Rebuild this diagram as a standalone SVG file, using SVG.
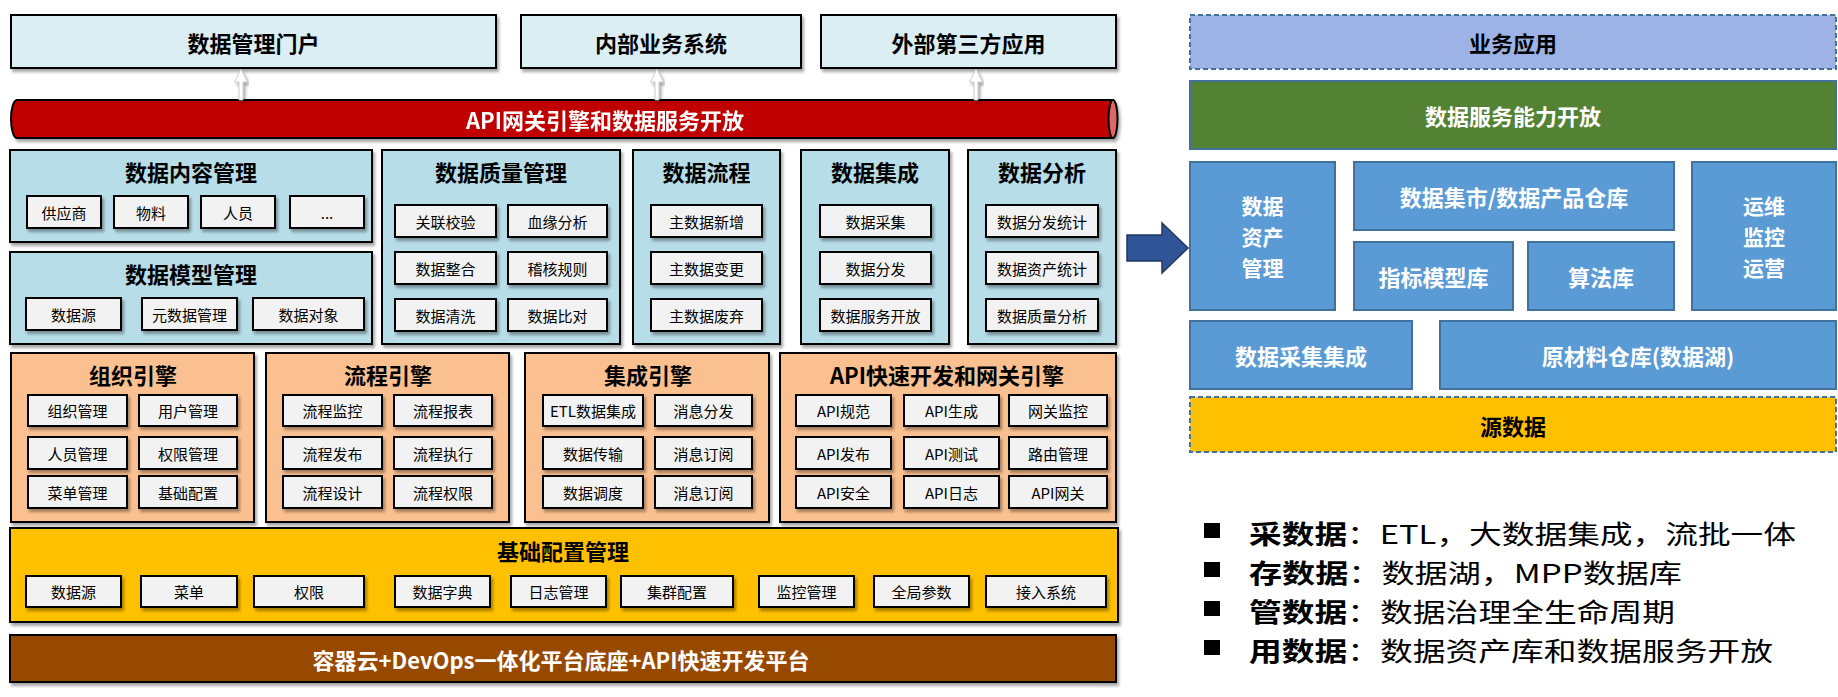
<svg xmlns="http://www.w3.org/2000/svg" width="1838" height="697" viewBox="0 0 1838 697">
<defs>
<filter id="sh" x="-10%" y="-20%" width="120%" height="150%">
<feDropShadow dx="2" dy="3" stdDeviation="1.8" flood-color="#000" flood-opacity="0.35"/>
</filter>
<style>
text{font-family:"Noto Sans CJK SC","Microsoft YaHei",sans-serif;text-anchor:middle;dominant-baseline:central}
.h{font-size:22px;font-weight:700;fill:#000}
.hw{font-size:22px;font-weight:700;fill:#fff}
.vs{font-size:21px;font-weight:700;fill:#fff}
.i{font-size:15px;fill:#000}
.top{fill:#DAEEF3;stroke:#000;stroke-width:2;filter:url(#sh)}
.sec{fill:#B7DDE8;stroke:#000;stroke-width:2;filter:url(#sh)}
.eng{fill:#FAC090;stroke:#000;stroke-width:2;filter:url(#sh)}
.item{fill:#F2F2F2;stroke:#000;stroke-width:2;filter:url(#sh)}
.rb{fill:#5B9BD5;stroke:#41719C;stroke-width:2}
.bl{font-size:26px;fill:#000;text-anchor:start}
</style>
</defs>

<!-- top layer -->
<g id="portal"><rect class="top" x="11" y="15" width="485" height="53"/><text class="h" x="253.5" y="41.5">数据管理门户</text></g>
<g id="internal"><rect class="top" x="521" y="15" width="280" height="53"/><text class="h" x="661" y="41.5">内部业务系统</text></g>
<g id="external"><rect class="top" x="821" y="15" width="295" height="53"/><text class="h" x="968.5" y="41.5">外部第三方应用</text></g>

<!-- API gateway bar -->
<g id="gateway" filter="url(#sh)">
<path d="M1113,100 L17,100 A6,19 0 0 0 17,138 L1113,138 Z" fill="#C00000" stroke="#000" stroke-width="2"/>
<ellipse cx="1113" cy="119" rx="4.5" ry="19" fill="#E06666" stroke="#000" stroke-width="2"/>
<text class="hw" x="605" y="119">API网关引擎和数据服务开放</text>
</g>

<!-- data content management -->
<g id="content">
<rect class="sec" x="10" y="150" width="362" height="92"/>
<text class="h" x="191" y="171">数据内容管理</text>
<rect class="item" x="27" y="196" width="74" height="32"/><text class="i" x="64" y="212">供应商</text>
<rect class="item" x="114" y="196" width="74" height="32"/><text class="i" x="151" y="212">物料</text>
<rect class="item" x="201" y="196" width="74" height="32"/><text class="i" x="238" y="212">人员</text>
<rect class="item" x="290" y="196" width="74" height="32"/><text class="i" x="327" y="212">...</text>
</g>

<g id="model">
<rect class="sec" x="10" y="252" width="362" height="92"/>
<text class="h" x="191" y="273">数据模型管理</text>
<rect class="item" x="26" y="298" width="95" height="32"/><text class="i" x="73.5" y="314">数据源</text>
<rect class="item" x="142" y="298" width="95" height="32"/><text class="i" x="189.5" y="314">元数据管理</text>
<rect class="item" x="253" y="298" width="111" height="32"/><text class="i" x="308.5" y="314">数据对象</text>
</g>

<g id="quality">
<rect class="sec" x="382" y="150" width="238" height="194"/>
<text class="h" x="501" y="171">数据质量管理</text>
<rect class="item" x="395" y="205" width="101" height="32"/><text class="i" x="445.5" y="221">关联校验</text>
<rect class="item" x="508" y="205" width="99" height="32"/><text class="i" x="557.5" y="221">血缘分析</text>
<rect class="item" x="395" y="252" width="101" height="32"/><text class="i" x="445.5" y="268">数据整合</text>
<rect class="item" x="508" y="252" width="99" height="32"/><text class="i" x="557.5" y="268">稽核规则</text>
<rect class="item" x="395" y="299" width="101" height="32"/><text class="i" x="445.5" y="315">数据清洗</text>
<rect class="item" x="508" y="299" width="99" height="32"/><text class="i" x="557.5" y="315">数据比对</text>
</g>

<g id="flow">
<rect class="sec" x="633" y="150" width="147" height="194"/>
<text class="h" x="706.5" y="171">数据流程</text>
<rect class="item" x="651" y="205" width="111" height="32"/><text class="i" x="706.5" y="221">主数据新增</text>
<rect class="item" x="651" y="252" width="111" height="32"/><text class="i" x="706.5" y="268">主数据变更</text>
<rect class="item" x="651" y="299" width="111" height="32"/><text class="i" x="706.5" y="315">主数据废弃</text>
</g>

<g id="integration">
<rect class="sec" x="801" y="150" width="148" height="194"/>
<text class="h" x="875" y="171">数据集成</text>
<rect class="item" x="820" y="205" width="111" height="32"/><text class="i" x="875.5" y="221">数据采集</text>
<rect class="item" x="820" y="252" width="111" height="32"/><text class="i" x="875.5" y="268">数据分发</text>
<rect class="item" x="820" y="299" width="111" height="32"/><text class="i" x="875.5" y="315">数据服务开放</text>
</g>

<g id="analysis">
<rect class="sec" x="968" y="150" width="148" height="194"/>
<text class="h" x="1042" y="171">数据分析</text>
<rect class="item" x="986" y="205" width="112" height="32"/><text class="i" x="1042" y="221">数据分发统计</text>
<rect class="item" x="986" y="252" width="112" height="32"/><text class="i" x="1042" y="268">数据资产统计</text>
<rect class="item" x="986" y="299" width="112" height="32"/><text class="i" x="1042" y="315">数据质量分析</text>
</g>

<!-- engines -->
<g id="org-engine">
<rect class="eng" x="11" y="353" width="243" height="169"/>
<text class="h" x="133" y="374">组织引擎</text>
<rect class="item" x="28" y="395" width="99" height="31"/><text class="i" x="77.5" y="410.5">组织管理</text>
<rect class="item" x="139" y="395" width="98" height="31"/><text class="i" x="188" y="410.5">用户管理</text>
<rect class="item" x="28" y="437" width="99" height="32"/><text class="i" x="77.5" y="453">人员管理</text>
<rect class="item" x="139" y="437" width="98" height="32"/><text class="i" x="188" y="453">权限管理</text>
<rect class="item" x="28" y="476" width="99" height="32"/><text class="i" x="77.5" y="492">菜单管理</text>
<rect class="item" x="139" y="476" width="98" height="32"/><text class="i" x="188" y="492">基础配置</text>
</g>

<g id="flow-engine">
<rect class="eng" x="266" y="353" width="243" height="169"/>
<text class="h" x="388" y="374">流程引擎</text>
<rect class="item" x="283" y="395" width="99" height="31"/><text class="i" x="332.5" y="410.5">流程监控</text>
<rect class="item" x="394" y="395" width="98" height="31"/><text class="i" x="443" y="410.5">流程报表</text>
<rect class="item" x="283" y="437" width="99" height="32"/><text class="i" x="332.5" y="453">流程发布</text>
<rect class="item" x="394" y="437" width="98" height="32"/><text class="i" x="443" y="453">流程执行</text>
<rect class="item" x="283" y="476" width="99" height="32"/><text class="i" x="332.5" y="492">流程设计</text>
<rect class="item" x="394" y="476" width="98" height="32"/><text class="i" x="443" y="492">流程权限</text>
</g>

<g id="int-engine">
<rect class="eng" x="525" y="353" width="244" height="169"/>
<text class="h" x="648" y="374">集成引擎</text>
<rect class="item" x="543" y="395" width="100" height="31"/><text class="i" x="593" y="410.5">ETL数据集成</text>
<rect class="item" x="655" y="395" width="97" height="31"/><text class="i" x="703.5" y="410.5">消息分发</text>
<rect class="item" x="543" y="437" width="100" height="32"/><text class="i" x="593" y="453">数据传输</text>
<rect class="item" x="655" y="437" width="97" height="32"/><text class="i" x="703.5" y="453">消息订阅</text>
<rect class="item" x="543" y="476" width="100" height="32"/><text class="i" x="593" y="492">数据调度</text>
<rect class="item" x="655" y="476" width="97" height="32"/><text class="i" x="703.5" y="492">消息订阅</text>
</g>

<g id="api-engine">
<rect class="eng" x="780" y="353" width="336" height="169"/>
<text class="h" x="947" y="374">API快速开发和网关引擎</text>
<rect class="item" x="796" y="395" width="95" height="31"/><text class="i" x="843.5" y="410.5">API规范</text>
<rect class="item" x="904" y="395" width="95" height="31"/><text class="i" x="951.5" y="410.5">API生成</text>
<rect class="item" x="1009" y="395" width="98" height="31"/><text class="i" x="1058" y="410.5">网关监控</text>
<rect class="item" x="796" y="437" width="95" height="32"/><text class="i" x="843.5" y="453">API发布</text>
<rect class="item" x="904" y="437" width="95" height="32"/><text class="i" x="951.5" y="453">API测试</text>
<rect class="item" x="1009" y="437" width="98" height="32"/><text class="i" x="1058" y="453">路由管理</text>
<rect class="item" x="796" y="476" width="95" height="32"/><text class="i" x="843.5" y="492">API安全</text>
<rect class="item" x="904" y="476" width="95" height="32"/><text class="i" x="951.5" y="492">API日志</text>
<rect class="item" x="1009" y="476" width="98" height="32"/><text class="i" x="1058" y="492">API网关</text>
</g>

<g id="base-config">
<rect x="10" y="528" width="1108" height="94" fill="#FFC000" stroke="#000" stroke-width="2" filter="url(#sh)"/>
<text class="h" x="563" y="550">基础配置管理</text>
<rect class="item" x="26" y="576" width="95" height="31"/><text class="i" x="73.5" y="591.5">数据源</text>
<rect class="item" x="141" y="576" width="96" height="31"/><text class="i" x="189" y="591.5">菜单</text>
<rect class="item" x="254" y="576" width="110" height="31"/><text class="i" x="309" y="591.5">权限</text>
<rect class="item" x="395" y="576" width="95" height="31"/><text class="i" x="442.5" y="591.5">数据字典</text>
<rect class="item" x="511" y="576" width="95" height="31"/><text class="i" x="558.5" y="591.5">日志管理</text>
<rect class="item" x="621" y="576" width="112" height="31"/><text class="i" x="677" y="591.5">集群配置</text>
<rect class="item" x="759" y="576" width="95" height="31"/><text class="i" x="806.5" y="591.5">监控管理</text>
<rect class="item" x="874" y="576" width="95" height="31"/><text class="i" x="921.5" y="591.5">全局参数</text>
<rect class="item" x="986" y="576" width="120" height="31"/><text class="i" x="1046" y="591.5">接入系统</text>
</g>

<g id="platform">
<rect x="10" y="635" width="1106" height="47" fill="#984806" stroke="#000" stroke-width="2" filter="url(#sh)"/>
<text class="hw" x="561" y="658.5">容器云+DevOps一体化平台底座+API快速开发平台</text>
</g>

<!-- right side -->
<g id="biz-app">
<rect x="1190" y="15" width="646" height="54" fill="#9DB3E6" stroke="#41719C" stroke-width="2" stroke-dasharray="5,3"/>
<text class="h" x="1513" y="42">业务应用</text>
</g>
<g id="service-open">
<rect x="1190" y="81" width="646" height="68" fill="#548235" stroke="#41719C" stroke-width="2"/>
<text class="hw" x="1513" y="115">数据服务能力开放</text>
</g>
<g id="asset-mgmt">
<rect class="rb" x="1190" y="162" width="145" height="148"/>
<text class="vs" x="1262.5" y="205">数据</text>
<text class="vs" x="1262.5" y="236">资产</text>
<text class="vs" x="1262.5" y="267">管理</text>
</g>
<g id="mart">
<rect class="rb" x="1354" y="162" width="320" height="68"/>
<text class="hw" x="1514" y="196">数据集市/数据产品仓库</text>
</g>
<g id="indicator">
<rect class="rb" x="1354" y="242" width="159" height="68"/>
<text class="hw" x="1433.5" y="276">指标模型库</text>
</g>
<g id="algo">
<rect class="rb" x="1528" y="242" width="146" height="68"/>
<text class="hw" x="1601" y="276">算法库</text>
</g>
<g id="ops">
<rect class="rb" x="1692" y="162" width="144" height="148"/>
<text class="vs" x="1764" y="205">运维</text>
<text class="vs" x="1764" y="236">监控</text>
<text class="vs" x="1764" y="267">运营</text>
</g>
<g id="collect">
<rect class="rb" x="1190" y="321" width="222" height="68"/>
<text class="hw" x="1301" y="355">数据采集集成</text>
</g>
<g id="lake">
<rect class="rb" x="1440" y="321" width="396" height="68"/>
<text class="hw" x="1638" y="355">原材料仓库(数据湖)</text>
</g>
<g id="source">
<rect x="1190" y="397" width="646" height="55" fill="#FFC000" stroke="#41719C" stroke-width="2" stroke-dasharray="5,3"/>
<text class="h" x="1513" y="424.5">源数据</text>
</g>

<!-- bullets -->
<g id="notes">
<rect x="1204" y="523" width="16" height="15" fill="#000"/>
<rect x="1204" y="562" width="16" height="15" fill="#000"/>
<rect x="1204" y="601" width="16" height="15" fill="#000"/>
<rect x="1204" y="640" width="16" height="15" fill="#000"/>
<text class="bl" x="1249" y="532" textLength="547" lengthAdjust="spacingAndGlyphs"><tspan font-weight="700">采数据</tspan>：ETL，大数据集成，流批一体</text>
<text class="bl" x="1249" y="571" textLength="433" lengthAdjust="spacingAndGlyphs"><tspan font-weight="700">存数据</tspan>：数据湖，MPP数据库</text>
<text class="bl" x="1249" y="610" textLength="426" lengthAdjust="spacingAndGlyphs"><tspan font-weight="700">管数据</tspan>：数据治理全生命周期</text>
<text class="bl" x="1249" y="649" textLength="524" lengthAdjust="spacingAndGlyphs"><tspan font-weight="700">用数据</tspan>：数据资产库和数据服务开放</text>
</g>

<!-- connectors -->
<g id="connectors">
<polygon points="241,69 234.5,82 239,82 239,100 243,100 243,82 247.5,82" fill="#fff" stroke="#BFBFBF" stroke-width="0.8" filter="url(#sh)"/>
<polygon points="657,69 650.5,82 655,82 655,100 659,100 659,82 663.5,82" fill="#fff" stroke="#BFBFBF" stroke-width="0.8" filter="url(#sh)"/>
<polygon points="976,69 969.5,82 974,82 974,100 978,100 978,82 982.5,82" fill="#fff" stroke="#BFBFBF" stroke-width="0.8" filter="url(#sh)"/>
<polygon points="1127,235 1162,235 1162,223 1188,248 1162,273 1162,261 1127,261" fill="#2F5597" stroke="#203864" stroke-width="1.5"/>
</g>
</svg>
